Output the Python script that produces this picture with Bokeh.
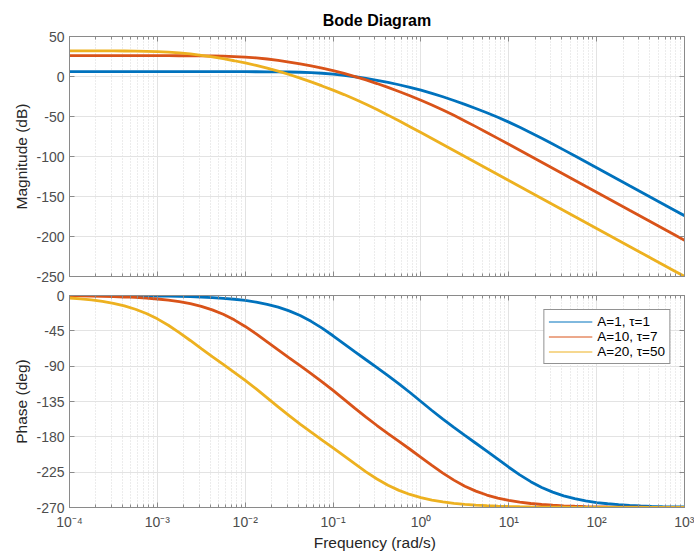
from bokeh.plotting import figure
from bokeh.models import (Range1d, FixedTicker, LogAxis, LinearAxis, Legend,
                          LegendItem, CustomJSTickFormatter, Title)
from bokeh.layouts import column
from bokeh.embed import file_html
from bokeh.resources import INLINE

# ---------------- data ----------------
freq = [1e-4, 1.334e-4, 1.778e-4, 2.371e-4, 3.162e-4, 4.217e-4, 5.623e-4, 7.499e-4,
        1e-3, 1.334e-3, 1.778e-3, 2.371e-3, 3.162e-3, 4.217e-3, 5.623e-3, 7.499e-3,
        1e-2, 1.334e-2, 1.778e-2, 2.371e-2, 3.162e-2, 4.217e-2, 5.623e-2, 7.499e-2,
        0.1, 0.1334, 0.1778, 0.2371, 0.3162, 0.4217, 0.5623, 0.7499,
        1.0, 1.334, 1.778, 2.371, 3.162, 4.217, 5.623, 7.499,
        10.0, 13.34, 17.78, 23.71, 31.62, 42.17, 56.23, 74.99,
        100.0, 133.4, 177.8, 237.1, 316.2, 421.7, 562.3, 749.9,
        1000.0]

mag_a1 = [6.02, 6.02, 6.02, 6.02, 6.02, 6.02, 6.02, 6.02,
          6.02, 6.02, 6.02, 6.02, 6.02, 6.02, 6.02, 6.00,
          5.98, 5.94, 5.88, 5.78, 5.60, 5.30, 4.82, 4.06,
          2.97, 1.51, -0.31, -2.43, -4.81, -7.44, -10.31, -13.52,
          -17.07, -21.02, -25.32, -29.94, -34.80, -39.93, -45.30, -51.00,
          -57.03, -63.44, -70.18, -77.20, -84.39, -91.72, -99.11, -106.56,
          -114.02, -121.51, -128.99, -136.49, -143.98, -151.48, -158.98, -166.48,
          -173.98]
mag_a10 = [26.02, 26.02, 26.02, 26.02, 26.02, 26.02, 26.01, 26.01,
           26.00, 25.98, 25.95, 25.90, 25.81, 25.65, 25.39, 24.95,
           24.27, 23.26, 21.89, 20.15, 18.10, 15.78, 13.22, 10.39,
           7.28, 3.81, -0.05, -4.26, -8.81, -13.62, -18.68, -24.00,
           -29.60, -35.56, -41.88, -48.55, -55.50, -62.66, -69.95, -77.34,
           -84.77, -92.24, -99.71, -107.20, -114.69, -122.19, -129.68, -137.19,
           -144.68, -152.19, -159.68, -167.19, -174.68, -182.19, -189.68, -197.19,
           -204.68]
mag_a20 = [32.03, 32.02, 32.01, 31.98, 31.93, 31.85, 31.71, 31.46,
           31.06, 30.42, 29.48, 28.17, 26.49, 24.49, 22.21, 19.69,
           16.91, 13.85, 10.44, 6.66, 2.49, -2.00, -6.77, -11.79,
           -17.06, -22.61, -28.50, -34.76, -41.38, -48.29, -55.42, -62.70,
           -70.07, -77.49, -84.95, -92.43, -99.92, -107.41, -114.90, -122.40,
           -129.90, -137.40, -144.90, -152.40, -159.90, -167.40, -174.90, -182.40,
           -189.90, -197.40, -204.90, -212.40, -219.90, -227.40, -234.90, -242.40,
           -249.90]

ph_a1 = [-0.06, -0.08, -0.11, -0.15, -0.20, -0.27, -0.36, -0.48,
         -0.63, -0.85, -1.13, -1.51, -2.01, -2.68, -3.57, -4.76,
         -6.34, -8.44, -11.2, -14.83, -19.54, -25.53, -32.9, -41.59,
         -51.28, -61.49, -71.74, -81.83, -91.81, -101.95, -112.5, -123.56,
         -135.0, -146.44, -157.5, -168.06, -178.19, -188.17, -198.26, -208.51,
         -218.72, -228.41, -237.1, -244.47, -250.46, -255.16, -258.8, -261.56,
         -263.66, -265.24, -266.43, -267.32, -267.99, -268.49, -268.87, -269.15,
         -269.37]
ph_a10 = [-0.44, -0.59, -0.79, -1.06, -1.41, -1.88, -2.50, -3.34,
          -4.45, -5.92, -7.88, -10.47, -13.88, -18.31, -23.96, -31.00,
          -39.40, -48.90, -59.04, -69.32, -79.44, -89.42, -99.47, -109.91,
          -120.86, -132.25, -143.74, -154.92, -165.58, -175.79, -185.76, -195.81,
          -206.04, -216.31, -226.18, -235.14, -242.84, -249.15, -254.13, -258.01,
          -260.97, -263.22, -264.90, -266.17, -267.12, -267.85, -268.38, -268.79,
          -269.09, -269.33, -269.49, -269.62, -269.71, -269.79, -269.84, -269.88,
          -269.91]
ph_a20 = [-3.18, -4.24, -5.64, -7.51, -9.98, -13.24, -17.47, -22.91,
          -29.72, -37.89, -47.23, -57.30, -67.59, -77.74, -87.74, -97.77,
          -108.12, -118.98, -130.30, -141.80, -153.06, -163.81, -174.09, -184.09,
          -194.11, -204.30, -214.58, -224.56, -233.71, -241.63, -248.19, -253.39,
          -257.43, -260.52, -262.88, -264.65, -265.98, -266.98, -267.74, -268.31,
          -268.73, -269.04, -269.29, -269.47, -269.60, -269.70, -269.78, -269.84,
          -269.88, -269.90, -269.93, -269.94, -269.96, -269.97, -269.98, -269.98,
          -269.99]

title_text = "Bode Diagram"
series_labels = ["A=1, \u03c4=1", "A=10, \u03c4=7", "A=20, \u03c4=50"]
x_major = [1e-4, 1e-3, 1e-2, 1e-1, 1e0, 1e1, 1e2, 1e3]
mag_ticks = [50, 0, -50, -100, -150, -200, -250]
ph_ticks = [0, -45, -90, -135, -180, -225, -270]

# ---------------- style ----------------
COLORS = ["#0072BD", "#D95319", "#EDB120"]
FONT = "Liberation Sans"
AX = "#8a8a8a"
TICKTXT = "#4d4d4d"
LW = 2.8
WIDTH = 694
LEFT = 69
RIGHT = 10

x_minor = [m * 10.0 ** d for d in range(-4, 3) for m in range(2, 10)]

def xticker():
    return FixedTicker(ticks=x_major, minor_ticks=x_minor)

def sup_fmt():
    return CustomJSTickFormatter(code=r"""
const sup = {"-":"\u207b","0":"\u2070","1":"\u00b9","2":"\u00b2","3":"\u00b3",
             "4":"\u2074","5":"\u2075","6":"\u2076","7":"\u2077","8":"\u2078","9":"\u2079"};
const e = Math.round(Math.log10(tick));
return "10" + String(e).split("").map(c => sup[c]).join("");
""")

def num_fmt():
    return CustomJSTickFormatter(code='return String(Math.round(tick));')

def blank_fmt():
    return CustomJSTickFormatter(code='return "";')

def style_axis(ax, labels=True):
    ax.axis_line_color = AX
    ax.major_tick_line_color = AX
    ax.minor_tick_line_color = AX
    ax.major_tick_in = 5
    ax.major_tick_out = 0
    ax.minor_tick_in = 3
    ax.minor_tick_out = 0
    ax.major_label_text_font = FONT
    ax.major_label_text_color = TICKTXT
    ax.major_label_text_font_size = "14px" if labels else "1px"
    ax.axis_label_text_font = FONT
    ax.axis_label_text_font_size = "15.5px"
    ax.axis_label_text_font_style = "normal"
    ax.axis_label_text_color = "#262626"

xr = Range1d(1e-4, 1e3)

def make_fig(height, yrange, yticks, ylabel, top_border, bottom_border, show_x):
    p = figure(width=WIDTH, height=height, x_axis_type="log", x_range=xr,
               y_range=yrange, output_backend="svg", toolbar_location=None,
               title=None,
               min_border_left=LEFT, min_border_right=RIGHT,
               min_border_top=top_border, min_border_bottom=bottom_border)
    p.background_fill_color = "white"
    p.outline_line_color = AX
    xa = p.xaxis[0]
    xa.ticker = xticker()
    style_axis(xa, labels=show_x)
    if show_x:
        xa.formatter = sup_fmt()
        xa.major_label_standoff = 6
        xa.axis_label = "Frequency  (rad/s)"
        xa.axis_label_standoff = 1
    else:
        xa.formatter = blank_fmt()
        xa.major_label_standoff = 0
    ya = p.yaxis[0]
    ya.ticker = FixedTicker(ticks=yticks)
    ya.formatter = num_fmt()
    style_axis(ya)
    ya.minor_tick_line_color = None
    ya.major_label_standoff = 5
    ya.axis_label = ylabel
    ya.axis_label_standoff = 3

    top = LogAxis(ticker=xticker(), formatter=blank_fmt())
    style_axis(top, labels=False)
    top.major_label_standoff = 0
    p.add_layout(top, "above")
    right = LinearAxis(ticker=FixedTicker(ticks=yticks), formatter=blank_fmt())
    style_axis(right, labels=False)
    right.minor_tick_line_color = None
    right.major_label_standoff = 0
    p.add_layout(right, "right")

    p.xgrid.ticker = xticker()
    p.xgrid.grid_line_color = "#e3e3e3"
    p.xgrid.minor_grid_line_color = "#d8d8d8"
    p.xgrid.minor_grid_line_dash = "1 2"
    p.ygrid.ticker = FixedTicker(ticks=yticks)
    p.ygrid.grid_line_color = "#e3e3e3"
    return p

p1 = make_fig(286, Range1d(-250, 50), mag_ticks, "Magnitude (dB)", 36, 10, False)
p1.add_layout(Title(text=title_text, align="center", vertical_align="top",
                    text_font=FONT, text_font_size="16px", text_font_style="bold",
                    text_color="#000000", standoff=12), "above")

p2 = make_fig(269, Range1d(-270, 0), ph_ticks, "Phase (deg)", 9, 48, True)

for mag, col in zip([mag_a1, mag_a10, mag_a20], COLORS):
    p1.line(freq, mag, line_color=col, line_width=LW)

# thin lines (hidden under the thick ones) that give the legend its thin samples
items = []
for ph, lab, col in zip([ph_a1, ph_a10, ph_a20], series_labels, COLORS):
    r = p2.line(freq, ph, line_color=col, line_width=1.0)
    items.append(LegendItem(label=lab, renderers=[r]))

for ph, col in zip([ph_a1, ph_a10, ph_a20], COLORS):
    p2.line(freq, ph, line_color=col, line_width=LW)

legend = Legend(items=items, location="top_right", margin=14, padding=4,
                spacing=0, label_standoff=5, glyph_width=44, glyph_height=15,
                label_height=15, label_text_font=FONT,
                label_text_font_size="13.5px", label_text_color="#000000",
                border_line_color="#262626", border_line_width=1,
                background_fill_color="white", background_fill_alpha=1.0)
p2.add_layout(legend)

layout = column(p1, p2, spacing=0)
open("out.html", "w").write(file_html(layout, INLINE))
